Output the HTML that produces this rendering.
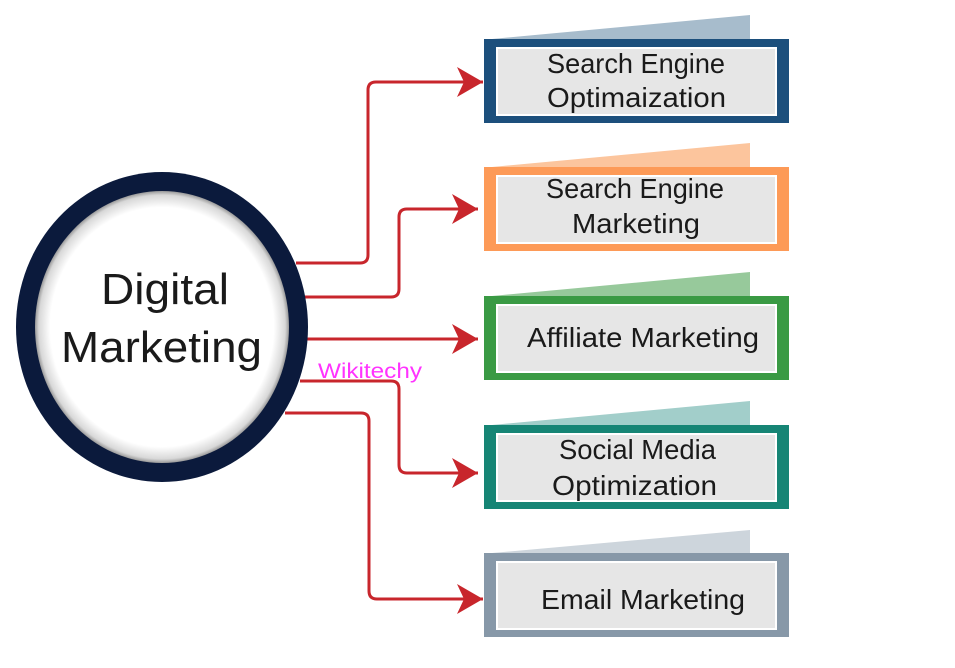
<!DOCTYPE html>
<html><head><meta charset="utf-8"><style>
html,body{margin:0;padding:0;background:#fff;width:955px;height:668px;overflow:hidden}
svg{display:block}
text{font-family:"Liberation Sans",sans-serif;fill:#1a1a1a}
</style></head><body>
<svg width="955" height="668" viewBox="0 0 955 668" xmlns="http://www.w3.org/2000/svg">
<defs>
<radialGradient id="cg" cx="0.5" cy="0.5" r="0.5">
<stop offset="0.88" stop-color="#fff"/><stop offset="0.97" stop-color="#d8d8d8"/><stop offset="1" stop-color="#999"/>
</radialGradient>
<marker id="ar" markerWidth="28" markerHeight="32" refX="26" refY="16" orient="auto" markerUnits="userSpaceOnUse">
<path d="M0,1 L26,16 L0,31 L7,16 Z" fill="#c8262c"/>
</marker>
</defs>
<g fill="none" stroke="#c8262c" stroke-width="3">
<path d="M296,263 H360 Q368,263 368,255 V90 Q368,82 376,82 H483" marker-end="url(#ar)"/>
<path d="M305,297 H391 Q399,297 399,289 V217 Q399,209 407,209 H478" marker-end="url(#ar)"/>
<path d="M307,339 H478" marker-end="url(#ar)"/>
<path d="M300,381 H391 Q399,381 399,389 V465 Q399,473 407,473 H478" marker-end="url(#ar)"/>
<path d="M285,413 H361 Q369,413 369,421 V591 Q369,599 377,599 H483" marker-end="url(#ar)"/>
</g>
<ellipse cx="162" cy="327" rx="146" ry="155" fill="#0b1a3c"/>
<ellipse cx="162" cy="327" rx="127" ry="136" fill="url(#cg)"/>
<text x="101" y="304" font-size="44" textLength="128" lengthAdjust="spacingAndGlyphs">Digital</text>
<text x="61" y="362" font-size="44" textLength="201" lengthAdjust="spacingAndGlyphs">Marketing</text>
<text x="318" y="378" font-size="21" textLength="104" lengthAdjust="spacingAndGlyphs" style="fill:#ff33ff">Wikitechy</text>

<g font-size="28">
<polygon points="492,39 750,15 750,39" fill="#a7bccc"/>
<rect x="484" y="39" width="305" height="84" fill="#1c4f7c"/>
<rect x="497" y="48" width="279" height="67" fill="#e6e6e6" stroke="#fff" stroke-width="2"/>
<text x="547" y="73" textLength="178" lengthAdjust="spacingAndGlyphs">Search Engine</text>
<text x="547" y="107" textLength="179" lengthAdjust="spacingAndGlyphs">Optimaization</text>

<polygon points="492,167 750,143 750,167" fill="#fcc59d"/>
<rect x="484" y="167" width="305" height="84" fill="#fd9a57"/>
<rect x="497" y="176" width="279" height="67" fill="#e6e6e6" stroke="#fff" stroke-width="2"/>
<text x="546" y="198" textLength="178" lengthAdjust="spacingAndGlyphs">Search Engine</text>
<text x="572" y="233" textLength="128" lengthAdjust="spacingAndGlyphs">Marketing</text>

<polygon points="492,296 750,272 750,296" fill="#97c99b"/>
<rect x="484" y="296" width="305" height="84" fill="#3a9a44"/>
<rect x="497" y="305" width="279" height="67" fill="#e6e6e6" stroke="#fff" stroke-width="2"/>
<text x="527" y="347" textLength="232" lengthAdjust="spacingAndGlyphs">Affiliate Marketing</text>

<polygon points="492,425 750,401 750,425" fill="#a2ceca"/>
<rect x="484" y="425" width="305" height="84" fill="#168575"/>
<rect x="497" y="434" width="279" height="67" fill="#e6e6e6" stroke="#fff" stroke-width="2"/>
<text x="559" y="459" textLength="157" lengthAdjust="spacingAndGlyphs">Social Media</text>
<text x="552" y="495" textLength="165" lengthAdjust="spacingAndGlyphs">Optimization</text>

<polygon points="492,553 750,530 750,553" fill="#cdd5dc"/>
<rect x="484" y="553" width="305" height="84" fill="#8798a8"/>
<rect x="497" y="562" width="279" height="67" fill="#e6e6e6" stroke="#fff" stroke-width="2"/>
<text x="541" y="609" textLength="204" lengthAdjust="spacingAndGlyphs">Email Marketing</text>
</g>
</svg>
</body></html>
